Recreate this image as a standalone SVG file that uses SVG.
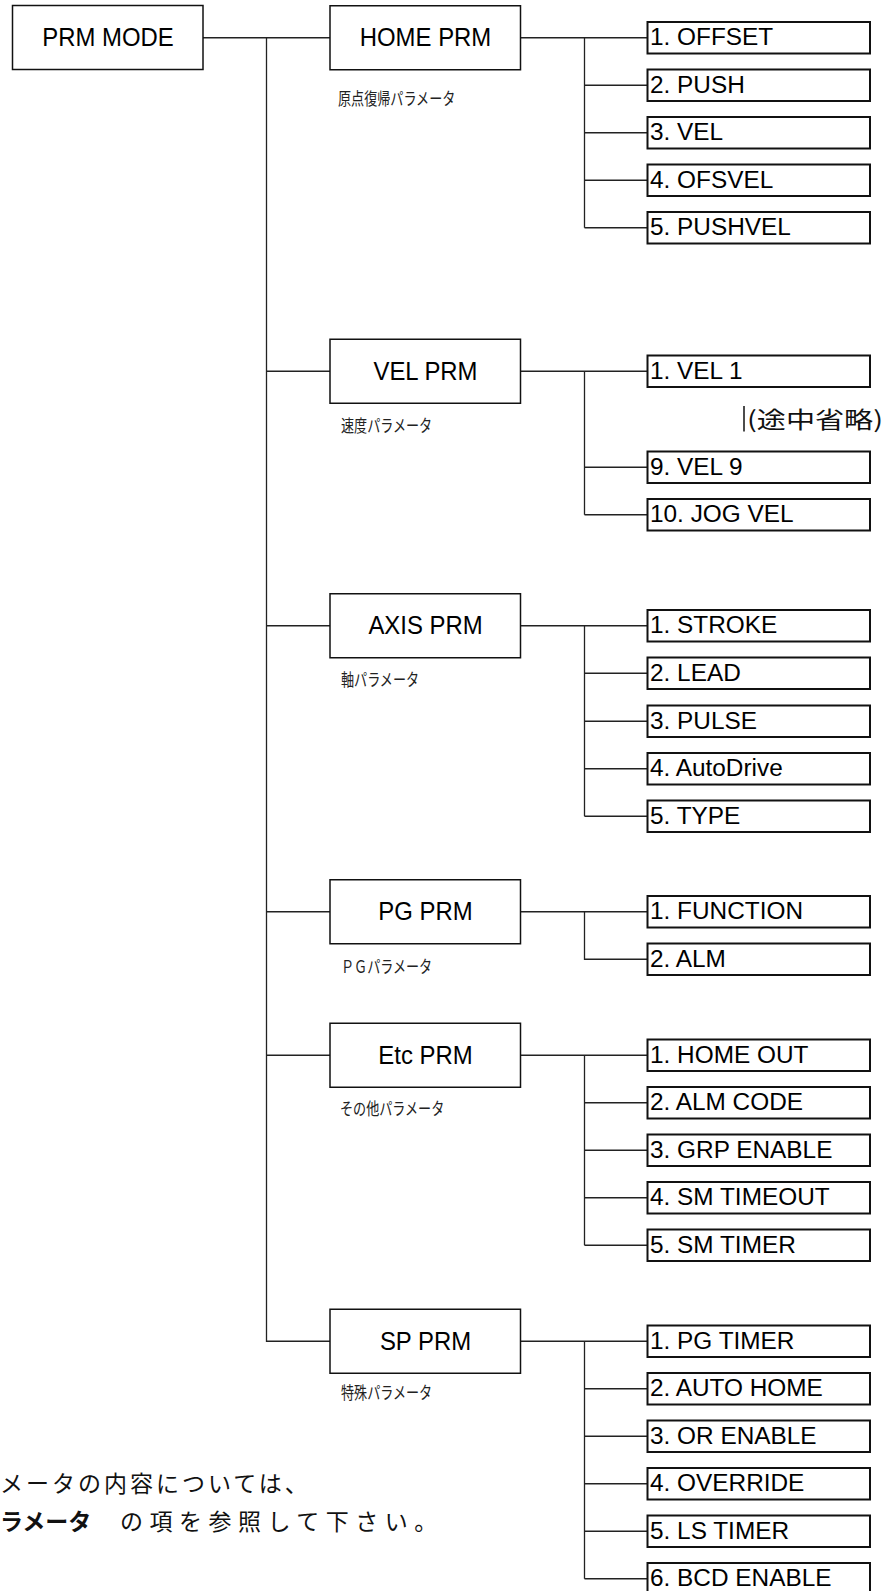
<svg xmlns="http://www.w3.org/2000/svg" width="884" height="1591" viewBox="0 0 884 1591">
<style>
.box{fill:#fff;stroke:#111;stroke-width:1.5}
.leaf{fill:#fff;stroke:#111;stroke-width:2}
.conn{fill:none;stroke:#222;stroke-width:1.3}
.t1{font-family:"Liberation Sans",Arial,sans-serif;font-size:26px;text-anchor:middle;fill:#000}
.t2{font-family:"Liberation Sans",Arial,sans-serif;font-size:23px;fill:#000}
.jp{font-family:"Noto Sans CJK JP",sans-serif;font-size:17px;fill:#222}
.note{font-family:"Noto Sans CJK JP",sans-serif;font-size:23px;fill:#111}
</style>
<rect width="884" height="1591" fill="#fff"/>
<g id="connectors" class="conn">
<path d="M203 37.75H330M266.5 37.75V1341.25H330M266.5 371.25H330M266.5 625.75H330M266.5 911.75H330M266.5 1055.25H330"/>
<path d="M520.5 37.75H647.5M584.5 37.75V227.75M584.5 85.25H647.5M584.5 132.75H647.5M584.5 180.25H647.5M584.5 227.75H647.5"/>
<path d="M520.5 371.25H647.5M584.5 371.25V514.75M584.5 467.25H647.5M584.5 514.75H647.5"/>
<path d="M520.5 625.75H647.5M584.5 625.75V816.25M584.5 673.25H647.5M584.5 721.25H647.5M584.5 768.75H647.5M584.5 816.25H647.5"/>
<path d="M520.5 911.75H647.5M584.5 911.75V959.25H647.5"/>
<path d="M520.5 1055.25H647.5M584.5 1055.25V1245.25M584.5 1102.75H647.5M584.5 1150.25H647.5M584.5 1197.75H647.5M584.5 1245.25H647.5"/>
<path d="M520.5 1341.25H647.5M584.5 1341.25V1578.75M584.5 1388.75H647.5M584.5 1436.25H647.5M584.5 1483.75H647.5M584.5 1531.25H647.5M584.5 1578.75H647.5"/>
</g>
<g id="prm-mode"><rect class="box" x="12.5" y="5.5" width="190.5" height="64"/><text class="t1" transform="translate(108,46) scale(0.92,1)">PRM MODE</text></g>

<g id="home-prm"><rect class="box" x="330" y="5.75" width="190.5" height="64"/><text class="t1" transform="translate(425.5,46.25) scale(0.92,1)">HOME PRM</text><text class="jp" transform="translate(338,105) scale(0.77,1)">原点復帰パラメータ</text></g>
<g id="home-1"><rect class="leaf" x="647.5" y="22" width="222.5" height="31.5"/><text class="t2" transform="translate(650,45) scale(1.06,1)">1. OFFSET</text></g>
<g id="home-2"><rect class="leaf" x="647.5" y="69.5" width="222.5" height="31.5"/><text class="t2" transform="translate(650,92.5) scale(1.06,1)">2. PUSH</text></g>
<g id="home-3"><rect class="leaf" x="647.5" y="117" width="222.5" height="31.5"/><text class="t2" transform="translate(650,140) scale(1.06,1)">3. VEL</text></g>
<g id="home-4"><rect class="leaf" x="647.5" y="164.5" width="222.5" height="31.5"/><text class="t2" transform="translate(650,187.5) scale(1.06,1)">4. OFSVEL</text></g>
<g id="home-5"><rect class="leaf" x="647.5" y="212" width="222.5" height="31.5"/><text class="t2" transform="translate(650,235) scale(1.06,1)">5. PUSHVEL</text></g>

<g id="vel-prm"><rect class="box" x="330" y="339.25" width="190.5" height="64"/><text class="t1" transform="translate(425.5,379.75) scale(0.92,1)">VEL PRM</text><text class="jp" transform="translate(341,432) scale(0.77,1)">速度パラメータ</text></g>
<g id="vel-1"><rect class="leaf" x="647.5" y="355.5" width="222.5" height="31.5"/><text class="t2" transform="translate(650,378.5) scale(1.06,1)">1. VEL 1</text></g>
<g id="vel-omit"><line x1="744" y1="406" x2="744" y2="431.5" stroke="#111" stroke-width="1.5"/><text class="note" x="747" y="428" font-size="24" textLength="136" lengthAdjust="spacingAndGlyphs">(途中省略)</text></g>
<g id="vel-9"><rect class="leaf" x="647.5" y="451.5" width="222.5" height="31.5"/><text class="t2" transform="translate(650,474.5) scale(1.06,1)">9. VEL 9</text></g>
<g id="vel-10"><rect class="leaf" x="647.5" y="499" width="222.5" height="31.5"/><text class="t2" transform="translate(650,522) scale(1.06,1)">10. JOG VEL</text></g>

<g id="axis-prm"><rect class="box" x="330" y="593.75" width="190.5" height="64"/><text class="t1" transform="translate(425.5,634.25) scale(0.92,1)">AXIS PRM</text><text class="jp" transform="translate(341,686) scale(0.77,1)">軸パラメータ</text></g>
<g id="axis-1"><rect class="leaf" x="647.5" y="610" width="222.5" height="31.5"/><text class="t2" transform="translate(650,633) scale(1.06,1)">1. STROKE</text></g>
<g id="axis-2"><rect class="leaf" x="647.5" y="657.5" width="222.5" height="31.5"/><text class="t2" transform="translate(650,680.5) scale(1.06,1)">2. LEAD</text></g>
<g id="axis-3"><rect class="leaf" x="647.5" y="705.5" width="222.5" height="31.5"/><text class="t2" transform="translate(650,728.5) scale(1.06,1)">3. PULSE</text></g>
<g id="axis-4"><rect class="leaf" x="647.5" y="753" width="222.5" height="31.5"/><text class="t2" transform="translate(650,776) scale(1.06,1)">4. AutoDrive</text></g>
<g id="axis-5"><rect class="leaf" x="647.5" y="800.5" width="222.5" height="31.5"/><text class="t2" transform="translate(650,823.5) scale(1.06,1)">5. TYPE</text></g>

<g id="pg-prm"><rect class="box" x="330" y="879.75" width="190.5" height="64"/><text class="t1" transform="translate(425.5,920.25) scale(0.92,1)">PG PRM</text><text class="jp" transform="translate(341,972.5) scale(0.77,1)">ＰＧパラメータ</text></g>
<g id="pg-1"><rect class="leaf" x="647.5" y="896" width="222.5" height="31.5"/><text class="t2" transform="translate(650,919) scale(1.06,1)">1. FUNCTION</text></g>
<g id="pg-2"><rect class="leaf" x="647.5" y="943.5" width="222.5" height="31.5"/><text class="t2" transform="translate(650,966.5) scale(1.06,1)">2. ALM</text></g>

<g id="etc-prm"><rect class="box" x="330" y="1023.25" width="190.5" height="64"/><text class="t1" transform="translate(425.5,1063.75) scale(0.92,1)">Etc PRM</text><text class="jp" transform="translate(340,1115) scale(0.77,1)">その他パラメータ</text></g>
<g id="etc-1"><rect class="leaf" x="647.5" y="1039.5" width="222.5" height="31.5"/><text class="t2" transform="translate(650,1062.5) scale(1.06,1)">1. HOME OUT</text></g>
<g id="etc-2"><rect class="leaf" x="647.5" y="1087" width="222.5" height="31.5"/><text class="t2" transform="translate(650,1110) scale(1.06,1)">2. ALM CODE</text></g>
<g id="etc-3"><rect class="leaf" x="647.5" y="1134.5" width="222.5" height="31.5"/><text class="t2" transform="translate(650,1157.5) scale(1.06,1)">3. GRP ENABLE</text></g>
<g id="etc-4"><rect class="leaf" x="647.5" y="1182" width="222.5" height="31.5"/><text class="t2" transform="translate(650,1205) scale(1.06,1)">4. SM TIMEOUT</text></g>
<g id="etc-5"><rect class="leaf" x="647.5" y="1229.5" width="222.5" height="31.5"/><text class="t2" transform="translate(650,1252.5) scale(1.06,1)">5. SM TIMER</text></g>

<g id="sp-prm"><rect class="box" x="330" y="1309.25" width="190.5" height="64"/><text class="t1" transform="translate(425.5,1349.75) scale(0.92,1)">SP PRM</text><text class="jp" transform="translate(341,1399) scale(0.77,1)">特殊パラメータ</text></g>
<g id="sp-1"><rect class="leaf" x="647.5" y="1325.5" width="222.5" height="31.5"/><text class="t2" transform="translate(650,1348.5) scale(1.06,1)">1. PG TIMER</text></g>
<g id="sp-2"><rect class="leaf" x="647.5" y="1373" width="222.5" height="31.5"/><text class="t2" transform="translate(650,1396) scale(1.06,1)">2. AUTO HOME</text></g>
<g id="sp-3"><rect class="leaf" x="647.5" y="1420.5" width="222.5" height="31.5"/><text class="t2" transform="translate(650,1443.5) scale(1.06,1)">3. OR ENABLE</text></g>
<g id="sp-4"><rect class="leaf" x="647.5" y="1468" width="222.5" height="31.5"/><text class="t2" transform="translate(650,1491) scale(1.06,1)">4. OVERRIDE</text></g>
<g id="sp-5"><rect class="leaf" x="647.5" y="1515.5" width="222.5" height="31.5"/><text class="t2" transform="translate(650,1538.5) scale(1.06,1)">5. LS TIMER</text></g>
<g id="sp-6"><rect class="leaf" x="647.5" y="1563" width="222.5" height="31.5"/><text class="t2" transform="translate(650,1586) scale(1.06,1)">6. BCD ENABLE</text></g>

<g id="note">
<text class="note" x="0" y="1492" letter-spacing="3">メータの内容については、</text>
<text class="note" x="0" y="1530" font-size="22" font-weight="bold">ラメータ</text>
<text class="note" x="120" y="1530" letter-spacing="6.5">の項を参照して下さい。</text>
</g>
</svg>
